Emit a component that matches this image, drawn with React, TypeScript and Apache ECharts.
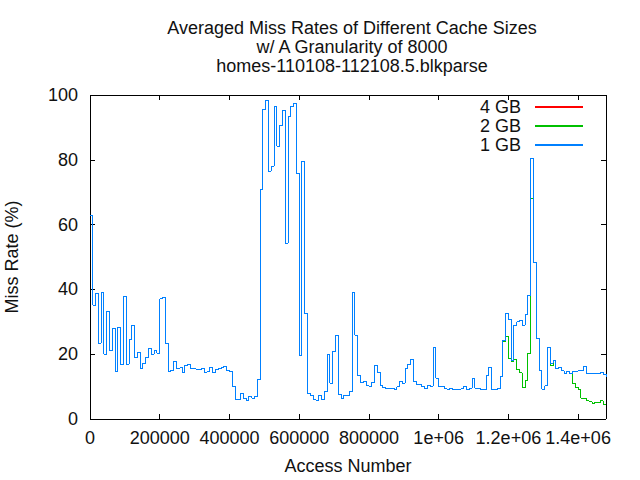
import React, { useEffect, useRef } from "react";
import * as echarts from "echarts";

const TITLE_LINES = [
  "Averaged Miss Rates of Different Cache Sizes",
  "w/ A Granularity of 8000",
  "homes-110108-112108.5.blkparse",
];
const X_NAME = "Access Number";
const Y_NAME = "Miss Rate (%)";

const GRANULARITY = 8000;
const X_MIN = 0;
const X_MAX = 1480000;
const X_INTERVAL = 200000;
const xTickValues = [0, 200000, 400000, 600000, 800000, 1000000, 1200000, 1400000];
const xTickLabels = ["0", "200000", "400000", "600000", "800000", "1e+06", "1.2e+06", "1.4e+06"];
const Y_MIN = 0;
const Y_MAX = 100;
const Y_INTERVAL = 20;

const seriesNames = ["4 GB", "2 GB", "1 GB"];
const seriesColors = ["#ff0000", "#00c000", "#0080ff"];

// 1 GB miss rate per 8000-access window (index k -> access number k*8000)
const miss1GB = [
  62.9, 35.1, 38.8, 23.4, 39.1, 20.0, 33.2, 21.0, 28.0, 14.7,
  28.3, 16.9, 37.8, 16.9, 24.4, 28.9, 19.0, 20.6, 15.6, 17.2,
  19.0, 21.8, 20.0, 21.2, 20.3, 37.1, 37.6, 23.4, 14.7, 15.0,
  17.8, 15.7, 15.9, 14.4, 16.6, 16.9, 15.6, 15.6, 15.3, 15.3,
  15.6, 14.4, 14.7, 15.9, 14.4, 15.3, 15.6, 15.9, 16.2, 15.0,
  14.7, 10.1, 6.1, 6.1, 7.9, 6.4, 5.8, 7.0, 6.4, 7.0,
  12.2, 70.7, 95.6, 98.3, 76.5, 78.0, 96.5, 84.2, 90.7, 95.3,
  54.2, 93.4, 96.5, 97.4, 75.8, 19.7, 79.5, 32.6, 7.9, 7.3,
  6.1, 5.8, 7.3, 6.1, 8.5, 20.0, 11.0, 20.9, 25.8, 7.6,
  6.4, 7.3, 7.3, 8.5, 39.1, 25.8, 13.3, 11.3, 11.6, 10.4,
  10.1, 11.3, 16.6, 14.4, 10.2, 9.7, 9.3, 9.3, 9.5, 9.0,
  9.9, 11.6, 11.1, 15.5, 16.9, 18.4, 11.6, 10.6, 10.8, 10.0,
  9.5, 10.4, 10.1, 22.1, 12.6, 10.1, 10.1, 9.3, 9.0, 9.5,
  9.2, 9.2, 9.0, 9.3, 10.1, 9.0, 9.5, 12.6, 9.5, 9.5,
  9.0, 9.0, 13.4, 16.0, 9.0, 9.0, 9.3, 13.1, 24.2, 32.6,
  30.8, 18.0, 29.0, 30.0, 30.3, 29.0, 32.3, 38.2, 80.5, 48.4,
  24.9, 15.1, 9.2, 10.2, 22.1, 17.2, 18.2, 15.6, 16.0, 14.9,
  14.1, 14.7, 14.1, 14.6, 14.8, 14.9, 15.1, 16.3, 14.1, 14.1,
  14.1, 14.1, 14.1, 14.4, 13.8, 13.1,
];

// 2 GB miss rate
const miss2GB = [
  62.9, 35.1, 38.8, 23.4, 39.1, 20.0, 33.2, 21.0, 28.0, 14.7,
  28.3, 16.9, 37.8, 16.9, 24.4, 28.9, 19.0, 20.6, 15.6, 17.2,
  19.0, 21.8, 20.0, 21.2, 20.3, 37.1, 37.6, 23.4, 14.7, 15.0,
  17.8, 15.7, 15.9, 14.4, 16.6, 16.9, 15.6, 15.6, 15.3, 15.3,
  15.6, 14.4, 14.7, 15.9, 14.4, 15.3, 15.6, 15.9, 16.2, 15.0,
  14.7, 10.1, 6.1, 6.1, 7.9, 6.4, 5.8, 7.0, 6.4, 7.0,
  12.2, 70.7, 95.6, 98.3, 76.5, 78.0, 96.5, 84.2, 90.7, 95.3,
  54.2, 93.4, 96.5, 97.4, 75.8, 19.7, 79.5, 32.6, 7.9, 7.3,
  6.1, 5.8, 7.3, 6.1, 8.5, 20.0, 11.0, 20.9, 25.8, 7.6,
  6.4, 7.3, 7.3, 8.5, 39.1, 25.8, 13.3, 11.3, 11.6, 10.4,
  10.1, 11.3, 16.6, 14.4, 10.2, 9.7, 9.3, 9.3, 9.5, 9.0,
  9.9, 11.6, 11.1, 15.5, 16.9, 18.4, 11.6, 10.6, 10.8, 10.0,
  9.5, 10.4, 10.1, 22.1, 12.6, 10.1, 10.1, 9.3, 9.0, 9.5,
  9.2, 9.2, 9.0, 9.3, 10.1, 9.0, 9.5, 12.6, 9.5, 9.5,
  9.0, 9.0, 13.4, 16.0, 9.0, 9.0, 9.3, 13.1, 24.0, 25.6,
  18.8, 17.6, 18.4, 15.3, 14.2, 9.7, 12.0, 20.3, 68.1, 48.4,
  24.9, 15.1, 9.2, 10.2, 22.1, 16.5, 18.2, 15.6, 16.0, 14.9,
  14.1, 14.7, 14.1, 11.0, 9.8, 9.0, 6.4, 6.4, 5.6, 5.3,
  4.8, 5.2, 5.0, 5.6, 4.6, 4.8,
];

// 4 GB curve is fully hidden beneath the 2 GB curve in the reference
const miss4GB = miss2GB;

const seriesValues = [miss4GB, miss2GB, miss1GB];

const FONT = "'Liberation Sans', Arial, sans-serif";

export default function App() {
  const ref = useRef<HTMLDivElement>(null);

  useEffect(() => {
    if (!ref.current) return;
    const chart = echarts.init(ref.current, null, { renderer: "svg" });

    const axisLineStyle = { color: "#000", width: 1 };
    const tick = { show: true, inside: true, length: 5, lineStyle: { color: "#000", width: 1 } };

    const xFormatter = (v: number) => {
      const i = xTickValues.indexOf(v);
      return i >= 0 ? xTickLabels[i] : "";
    };

    const option: any = {
      animation: false,
      backgroundColor: "#fff",
      textStyle: { fontFamily: FONT },
      title: {
        text: TITLE_LINES.join("\n"),
        left: 347,
        top: 13,
        textAlign: "center",
        textStyle: {
          fontFamily: FONT,
          fontSize: 18,
          fontWeight: "normal",
          color: "#111",
          lineHeight: 19,
        },
      },
      legend: {
        orient: "vertical",
        align: "right",
        right: 56,
        top: 98,
        padding: 0,
        itemWidth: 48,
        itemHeight: 10,
        itemGap: 1,
        itemStyle: { opacity: 0 },
        data: seriesNames,
        textStyle: {
          fontFamily: FONT,
          fontSize: 18,
          color: "#111",
          lineHeight: 18,
          padding: [0, 9, 0, 0],
        },
      },
      grid: {
        left: 90,
        right: 34,
        top: 95,
        bottom: 61,
        containLabel: false,
        outerBoundsMode: "none",
        show: false,
      },
      xAxis: [
        {
          type: "value",
          position: "bottom",
          min: X_MIN,
          max: X_MAX,
          interval: X_INTERVAL,
          name: X_NAME,
          nameLocation: "middle",
          nameGap: 38,
          nameTextStyle: { fontFamily: FONT, fontSize: 18, color: "#111", lineHeight: 18 },
          axisLine: { show: true, onZero: false, lineStyle: axisLineStyle },
          axisTick: tick,
          axisLabel: {
            show: true,
            margin: 10,
            fontFamily: FONT,
            fontSize: 18,
            color: "#111",
            formatter: xFormatter,
            showMaxLabel: false,
            hideOverlap: false,
          },
          splitLine: { show: false },
        },
        {
          type: "value",
          position: "top",
          min: X_MIN,
          max: X_MAX,
          interval: X_INTERVAL,
          axisLine: { show: true, onZero: false, lineStyle: axisLineStyle },
          axisTick: tick,
          axisLabel: { show: false },
          splitLine: { show: false },
        },
      ],
      yAxis: [
        {
          type: "value",
          position: "left",
          min: Y_MIN,
          max: Y_MAX,
          interval: Y_INTERVAL,
          name: Y_NAME,
          nameLocation: "middle",
          nameGap: 69,
          nameTextStyle: { fontFamily: FONT, fontSize: 18, color: "#111", lineHeight: 18 },
          axisLine: { show: true, onZero: false, lineStyle: axisLineStyle },
          axisTick: tick,
          axisLabel: { show: true, margin: 12, fontFamily: FONT, fontSize: 18, color: "#111" },
          splitLine: { show: false },
        },
        {
          type: "value",
          position: "right",
          min: Y_MIN,
          max: Y_MAX,
          interval: Y_INTERVAL,
          axisLine: { show: true, onZero: false, lineStyle: axisLineStyle },
          axisTick: tick,
          axisLabel: { show: false },
          splitLine: { show: false },
        },
      ],
      series: seriesNames.map((name, si) => ({
        name,
        type: "line",
        step: "end",
        xAxisIndex: 0,
        yAxisIndex: 0,
        symbol: "none",
        showSymbol: false,
        clip: true,
        z: 2 + si,
        color: seriesColors[si],
        itemStyle: { color: seriesColors[si] },
        lineStyle: { color: seriesColors[si], width: 1 },
        data: seriesValues[si].map((v, k) => [k * GRANULARITY, v]),
      })),
    };

    chart.setOption(option);
    return () => chart.dispose();
  }, []);

  return (
    <div
      ref={ref}
      style={{
        position: "fixed",
        left: 0,
        top: 0,
        width: 640,
        height: 480,
        shapeRendering: "crispEdges",
      } as any}
    />
  );
}
